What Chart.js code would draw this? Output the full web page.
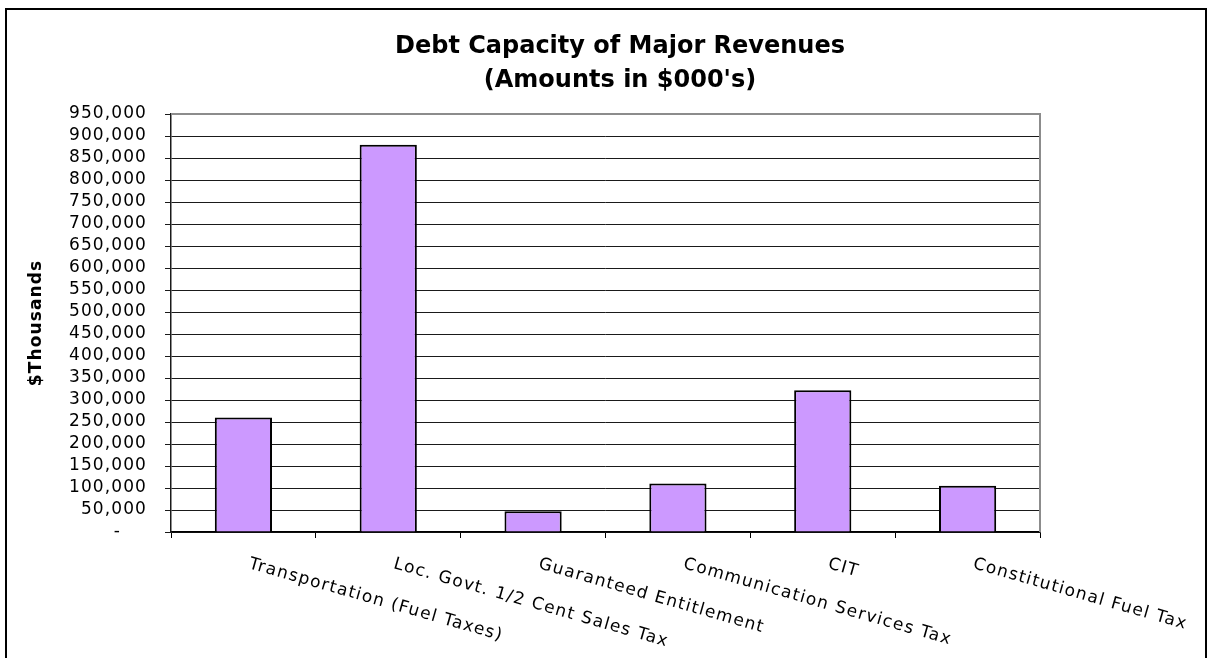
<!DOCTYPE html>
<html>
<head>
<meta charset="utf-8">
<script src="https://cdn.jsdelivr.net/npm/chart.js@4.4.1/dist/chart.umd.min.js"></script>
<style>
  html, body { margin: 0; padding: 0; background: #fff; }
  body { width: 1214px; height: 658px; overflow: hidden; position: relative; }
  #frame { position: absolute; left: 5px; top: 8px; width: 1202px; height: 700px; border: 2px solid #000; box-sizing: border-box; }
  #chart { position: absolute; left: 0; top: 0; }
</style>
</head>
<body>
<div id="frame"></div>
<canvas id="chart" width="1214" height="658"></canvas>
<script>
// Datos del gráfico
const categories = [
  'Transportation (Fuel Taxes)',
  'Loc. Govt. 1/2 Cent Sales Tax',
  'Guaranteed Entitlement',
  'Communication Services Tax',
  'CIT',
  'Constitutional Fuel Tax'
];
const debtCapacity = [260000, 880000, 47000, 110000, 322000, 105000];
const yMin = 0, yMax = 950000, yStep = 50000;
const chartTitle = ['Debt Capacity of Major Revenues', "(Amounts in $000's)"];
const yTitle = '$Thousands';

// espaciado de letras (texto de Excel es más ancho)
const spacing = {
  id: 'spacing',
  beforeDraw(chart) { chart.ctx.letterSpacing = '1.1px'; }
};

// borde gris del área de trazado (arriba y derecha)
const plotBorder = {
  id: 'plotBorder',
  afterDatasetsDraw(chart) {
    const { ctx, chartArea: a } = chart;
    ctx.save();
    ctx.strokeStyle = '#8c8c8c';
    ctx.lineWidth = 2;
    ctx.beginPath();
    ctx.moveTo(a.left, a.top);
    ctx.lineTo(a.right, a.top);
    ctx.lineTo(a.right, a.bottom);
    ctx.stroke();
    ctx.restore();
  }
};

// título y etiquetas inclinadas hacia abajo
const texts = {
  id: 'texts',
  afterDraw(chart) {
    const { ctx, chartArea } = chart;
    const xs = chart.scales.x;
    ctx.save();
    ctx.fillStyle = '#000';
    ctx.letterSpacing = '0px';
    ctx.font = 'bold 24px "DejaVu Sans"';
    ctx.textAlign = 'center';
    ctx.textBaseline = 'alphabetic';
    ctx.fillText(chartTitle[0], 620, 53);
    ctx.fillText(chartTitle[1], 620, 87);

    ctx.font = '17px "DejaVu Sans"';
    ctx.letterSpacing = '1.3px';
    ctx.textAlign = 'left';
    categories.forEach((c, i) => {
      ctx.save();
      ctx.translate(xs.getPixelForValue(i) + 8, chartArea.bottom + 24);
      ctx.rotate(16 * Math.PI / 180);
      ctx.fillText(c, 0, 12.4);
      ctx.restore();
    });
    ctx.restore();
  }
};

new Chart(document.getElementById('chart'), {
  type: 'bar',
  data: {
    labels: categories,
    datasets: [{
      data: debtCapacity,
      backgroundColor: '#CC99FF',
      borderColor: '#000',
      borderWidth: 2,
      categoryPercentage: 1,
      barPercentage: 0.395
    }]
  },
  options: {
    responsive: false,
    animation: false,
    layout: { padding: { left: 10, right: 174, top: 114, bottom: 0 } },
    plugins: {
      legend: { display: false },
      tooltip: { enabled: false },
      title: { display: false }
    },
    scales: {
      x: {
        grid: { drawOnChartArea: false, drawTicks: true, tickLength: 6, color: '#000', offset: true },
        border: { color: '#000', width: 1.5 },
        ticks: { display: false },
        afterFit(s) { s.height = 126; }
      },
      y: {
        min: yMin,
        max: yMax,
        ticks: {
          stepSize: yStep,
          autoSkip: false,
          color: '#000',
          padding: 18,
          font: { family: 'DejaVu Sans', size: 17 },
          callback: v => v === 0 ? '-    ' : v.toLocaleString('en-US')
        },
        grid: { color: '#1a1a1a', lineWidth: 1, tickLength: 6 },
        border: { color: '#1a1a1a', width: 1.5 },
        title: {
          display: true,
          text: yTitle,
          color: '#000',
          font: { family: 'DejaVu Sans', size: 17, weight: 'bold' },
          padding: { top: 16, bottom: 0 }
        },
        afterFit(s) { s.width = 161; }
      }
    }
  },
  plugins: [spacing, plotBorder, texts]
});
</script>
</body>
</html>
